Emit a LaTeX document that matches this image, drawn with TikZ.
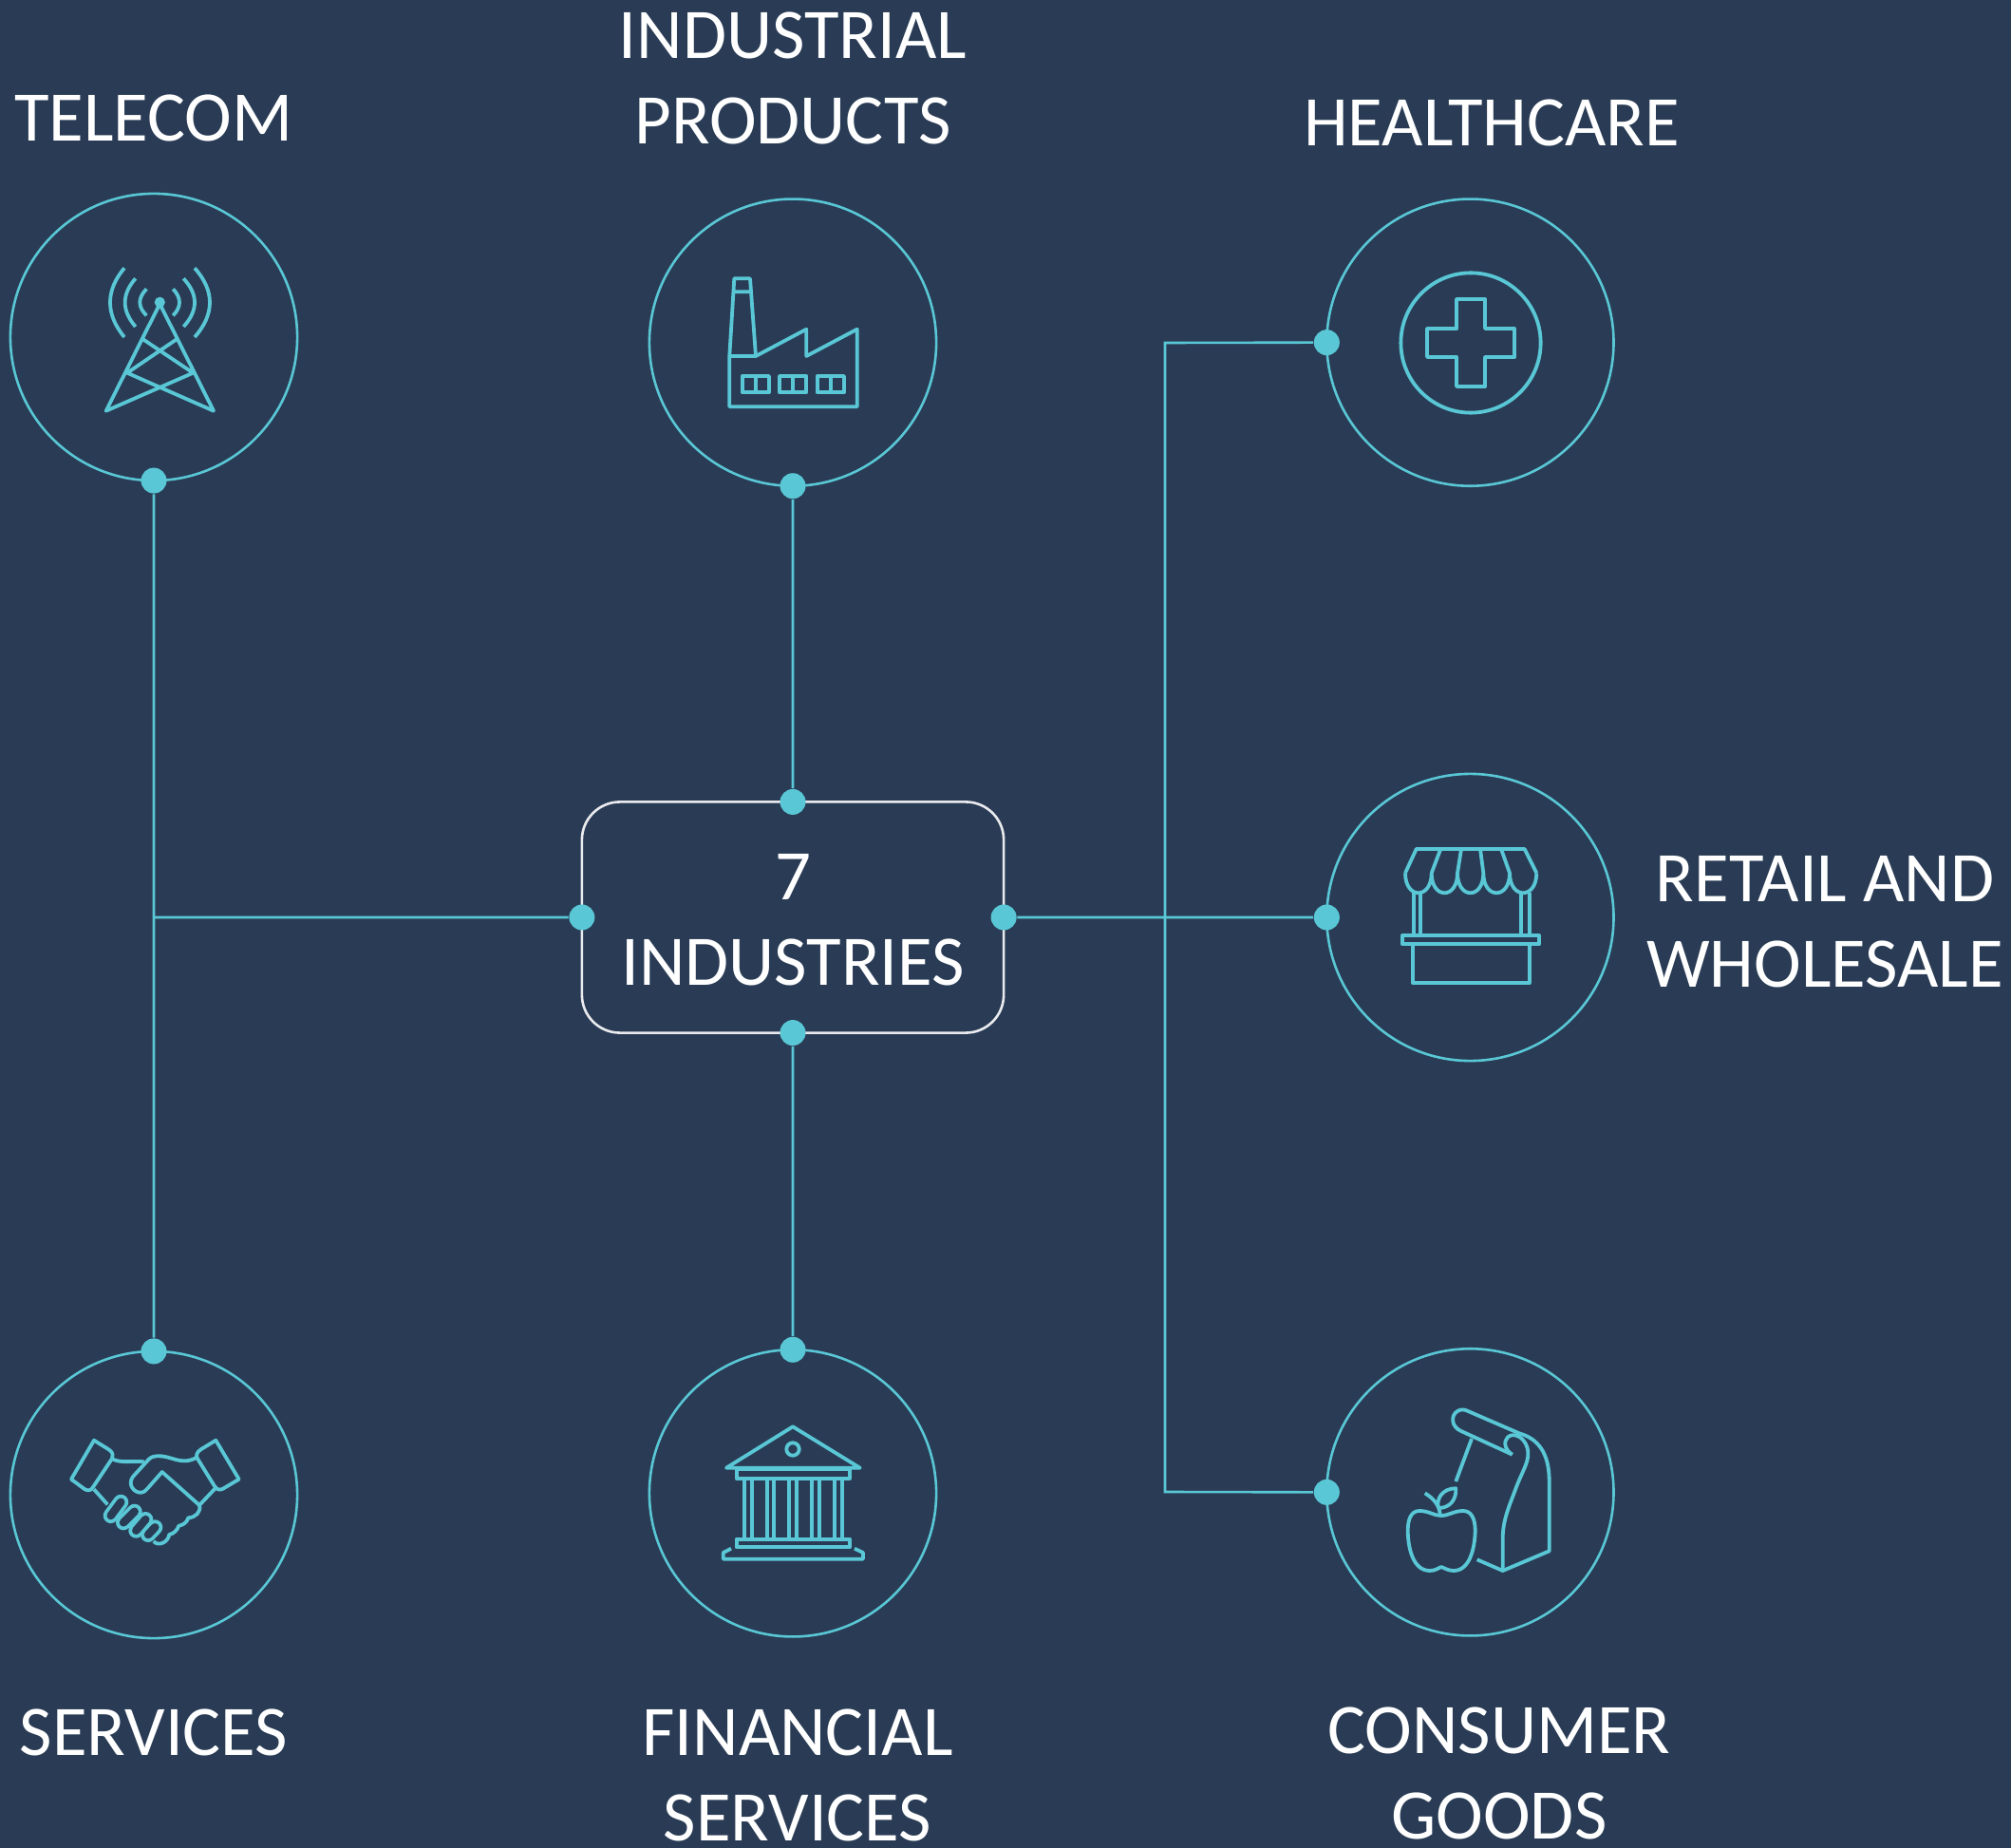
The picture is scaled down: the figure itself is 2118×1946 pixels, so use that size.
\documentclass[tikz,border=0pt]{standalone}
\usepackage{fontspec}
\setmainfont{Carlito}
\usetikzlibrary{positioning}
\definecolor{slatebg}{HTML}{2A3C55}
\definecolor{tealline}{HTML}{59C7D5}

\begin{document}
\begin{tikzpicture}[x=.01cm,y=-.01cm,on grid,
    hub/.style={circle,draw=tealline,line width=.026cm,minimum size=3.02cm,inner sep=0,outer sep=0},
    centrebox/.style={draw=white!90!slatebg,line width=.026cm,rounded corners=.4cm,minimum width=4.44cm,minimum height=2.43cm,inner sep=0,outer sep=0,align=center,text=white,font=\fontsize{21.3}{25.6}\selectfont},
    pin/.style={circle,fill=tealline,minimum size=.27cm,inner sep=0},
    link/.style={draw=tealline,line width=.026cm},
    caption/.style={text=white,align=center,font=\fontsize{21.3}{25.6}\selectfont},
    icon/.style={draw=tealline,line width=.038cm,line join=round}]
  \fill[slatebg] (0,0) rectangle (2118,1946);
  \useasboundingbox (0,0) rectangle (2118,1946);

  % hubs
  \node[centrebox] (box) at (835,966) {\raisebox{-.03cm}[\height][\depth]{7}\\\raisebox{-.03cm}[\height][\depth]{INDUSTRIES}};
  \node[hub] (industrial) [above=6.05cm of box] {};
  \node[hub] (financial) [below=6.06cm of box] {};
  \node[hub] (retail) [right=7.13cm of box] {};
  \node[hub] (healthcare) [above=6.05cm of retail] {};
  \node[hub] (consumer) [below=6.05cm of retail] {};
  \node[hub] (telecom) at (162,355) {};
  \node[hub] (services) at (162,1574) {};

  % captions
  \node[caption] (telecomtext) at (162,124) {TELECOM};
  \node[caption] (industrialtext) at (835,82.5) {INDUSTRIAL\\PRODUCTS};
  \node[caption] (healthcaretext) at (1571,129) {HEALTHCARE};
  \node[caption] (retailtext) at (1922,971) {RETAIL AND\\WHOLESALE};
  \node[caption] (servicestext) at (162,1824) {SERVICES};
  \node[caption] (financialtext) at (840,1869) {FINANCIAL\\SERVICES};
  \node[caption] (consumertext) at (1579,1867) {CONSUMER\\GOODS};

  % connectors
  \node[pin] (telecompin) at (telecom.south) {};
  \node[pin] (servicespin) at (services.north) {};
  \node[pin] (industrialpin) at (industrial.south) {};
  \node[pin] (financialpin) at (financial.north) {};
  \node[pin] (healthcarepin) at (healthcare.west) {};
  \node[pin] (retailpin) at (retail.west) {};
  \node[pin] (consumerpin) at (consumer.west) {};
  \node[pin] (boxtop) at (box.north) {};
  \node[pin] (boxbottom) at (box.south) {};
  \node[pin] (boxleft) at (box.west) {};
  \node[pin] (boxright) at (box.east) {};
  \coordinate (trunktop) at (1227,361);
  \coordinate (trunkbottom) at (1227,1571);
  \coordinate (leftjoin) at (162,966);
  \path[link]
    (telecompin) -- (servicespin)
    (boxleft) -- (leftjoin)
    (industrialpin) -- (boxtop)
    (boxbottom) -- (financialpin)
    (boxright) -- (retailpin)
    (healthcarepin) -- (trunktop) -- (trunkbottom) -- (consumerpin);

  % tower
  \fill[tealline] (168.3,318.3) circle[radius=.056cm];
  \draw[icon] (168.3,320) -- (111.7,432.7) -- (203.3,392.7) -- (150.7,357.3)
    (168.3,320) -- (225,432.7) -- (134,392.7) -- (186,357.3);
  \foreach \ax/\cx/\ya/\yb/\ca/\cb in {205/226.3/282.3/355/306/331,193.3/208.9/293.3/344/310/327,182.3/191.2/304.3/332.3/314/323,
      131/111/282.3/355/306/331,142.7/128/293.3/344/310/327,154.3/145/304.3/332.3/314/323}
    \draw[icon] (\ax,\ya) .. controls (\cx,\ca) and (\cx,\cb) .. (\ax,\yb);

  % factory
  \draw[icon] (768.3,375) -- (773.3,293.3) -- (790,293.3) -- (796,375)
    (772,307.3) -- (791,307.3);
  \draw[icon] (768.3,375) -- (768.3,428.3) -- (902.7,428.3) -- (902.7,346.7) -- (849.3,375)
    -- (849.3,346.7) -- (796,375) -- cycle;
  \foreach \wx in {781.7,821,860.7} {
    \draw[icon] (\wx,396) rectangle ++(28.3,17.3);
    \draw[icon] (\wx+14.15,396) -- ++(0,17.3);
  }

  % medical cross
  \draw[icon] (1549,361) circle[radius=.736cm];
  \draw[icon] (1534,315) -- (1564,315) -- (1564,346) -- (1595,346) -- (1595,376) -- (1564,376)
    -- (1564,407) -- (1534,407) -- (1534,376) -- (1503,376) -- (1503,346) -- (1534,346) -- cycle;

  % market stall
  \draw[icon] (1480,919.3) -- (1491.7,894) -- (1605.7,894) -- (1618.3,919.3);
  \draw[icon] (1480,919.3) .. controls +(0,28) and +(0,28) .. (1507.7,919.3)
    .. controls +(0,28) and +(0,28) .. (1535,919.3)
    .. controls +(0,28) and +(0,28) .. (1562.3,919.3)
    .. controls +(0,28) and +(0,28) .. (1590,919.3)
    .. controls +(0,28) and +(0,28) .. (1618.3,919.3);
  \draw[icon] (1507.7,919.3) -- (1517.3,894) (1535,919.3) -- (1539,894)
    (1562.3,919.3) -- (1559,894) (1590,919.3) -- (1581,894);
  \foreach \px in {1489.3,1496,1601.7,1610.7}
    \draw[icon] (\px,940) -- (\px,985);
  \draw[icon] (1477.3,985) rectangle (1620.7,994.3);
  \draw[icon] (1487.7,994.3) -- (1487.7,1035) -- (1610.7,1035) -- (1610.7,994.3);

  % handshake
  \foreach \ax/\ay/\bx/\by in {163.3/1608.3/156/1616,153.3/1600/143.3/1611.7,141.7/1591.7/130/1603.3,127.3/1581.7/116.7/1596} {
    \draw[tealline,line width=.16cm,line cap=round] (\ax,\ay) -- (\bx,\by);
    \draw[slatebg,line width=.085cm,line cap=round] (\ax,\ay) -- (\bx,\by);
  }
  \draw[icon] (99,1516.7) -- (114,1526) .. controls (120,1530) and (119,1533) .. (118,1536)
    -- (98,1566) .. controls (96,1570) and (92,1570) .. (89,1568) -- (75,1557.7) -- cycle;
  \draw[icon] (227.3,1516.7) -- (212,1526) .. controls (207,1529) and (206,1533) .. (208,1536)
    -- (226,1565) .. controls (229,1570) and (233,1569) .. (236,1567) -- (251.7,1557.7) -- cycle;
  \draw[icon] (119,1536.7) .. controls (128,1541) and (140,1538) .. (151.7,1539.3);
  \draw[icon] (206.7,1535) .. controls (190,1544) and (180,1532) .. (165,1533.3)
    .. controls (160,1534) and (158,1535) .. (156.7,1536.7) -- (140,1555)
    .. controls (134,1563) and (141,1572) .. (148.3,1571.7)
    .. controls (152,1571.5) and (154,1569) .. (156,1566.7) -- (170.7,1550) -- (210,1585);
  \draw[icon] (226.7,1567.3) -- (210,1585) .. controls (212,1592) and (206,1598) .. (198.3,1598.3)
    .. controls (197,1603) and (193,1606) .. (188.3,1606.7)
    .. controls (187,1611) and (183,1615) .. (178.3,1616)
    .. controls (177,1624) and (167,1629) .. (161.7,1623);
  \draw[icon] (99,1568.3) -- (113.3,1584.3);

  % bank
  \draw[icon] (835,1502.3) -- (765,1545.7) -- (905.7,1545.7) -- cycle;
  \draw[icon] (835,1526) circle[radius=.067cm];
  \draw[icon] (775.7,1547.3) rectangle (895,1556.7);
  \foreach \cx in {784,791.7,807.7,815.3,831.3,839,855,862.7,878.7,886.7}
    \draw[icon] (\cx,1556.7) -- (\cx,1620.7);
  \draw[icon] (775.7,1620.7) rectangle (895,1629.3);
  \draw[icon] (770,1630.7) -- (761.7,1635) -- (761.7,1641.7) -- (909,1641.7) -- (909,1635) -- (900,1630.7);

  % bag and apple
  \draw[icon] (1592.7,1531.7) -- (1538.3,1506.7) .. controls (1528,1502) and (1528,1490) .. (1535,1486)
    .. controls (1538,1484) and (1542,1484) .. (1545,1485.5) -- (1600,1509.3)
    .. controls (1620,1515) and (1631.7,1530) .. (1631.7,1560) -- (1631.7,1633.3)
    -- (1582.7,1654) -- (1555.7,1642.3);
  \draw[icon] (1582.7,1654) -- (1582.7,1620) .. controls (1582.7,1600) and (1590,1585) .. (1596.7,1566.7)
    .. controls (1603,1550) and (1610,1540) .. (1609.3,1530)
    .. controls (1609,1515) and (1595,1507) .. (1588,1513.3)
    .. controls (1583,1518) and (1585,1527) .. (1592.7,1531.7);
  \draw[icon] (1550,1515) -- (1533.3,1560);
  \draw[icon] (1517.7,1596) .. controls (1510,1596) and (1505,1591) .. (1495,1591)
    .. controls (1486,1591) and (1482.7,1600) .. (1482.7,1612)
    .. controls (1483,1630) and (1488,1654) .. (1506,1654)
    .. controls (1512,1654) and (1515,1651) .. (1518,1650)
    .. controls (1521,1651) and (1525,1654) .. (1531,1654)
    .. controls (1548,1654) and (1553.3,1630) .. (1553.7,1612)
    .. controls (1553.7,1600) and (1550,1591) .. (1541,1591)
    .. controls (1531,1591) and (1526,1596) .. (1517.7,1596);
  \draw[icon] (1516.7,1595) .. controls (1516,1585) and (1510,1578) .. (1500.7,1572.3);
  \draw[icon] (1515,1588) .. controls (1512,1578) and (1520,1567) .. (1533.3,1567.3)
    .. controls (1534,1578) and (1528,1588) .. (1515,1588);
\end{tikzpicture}
\end{document}
